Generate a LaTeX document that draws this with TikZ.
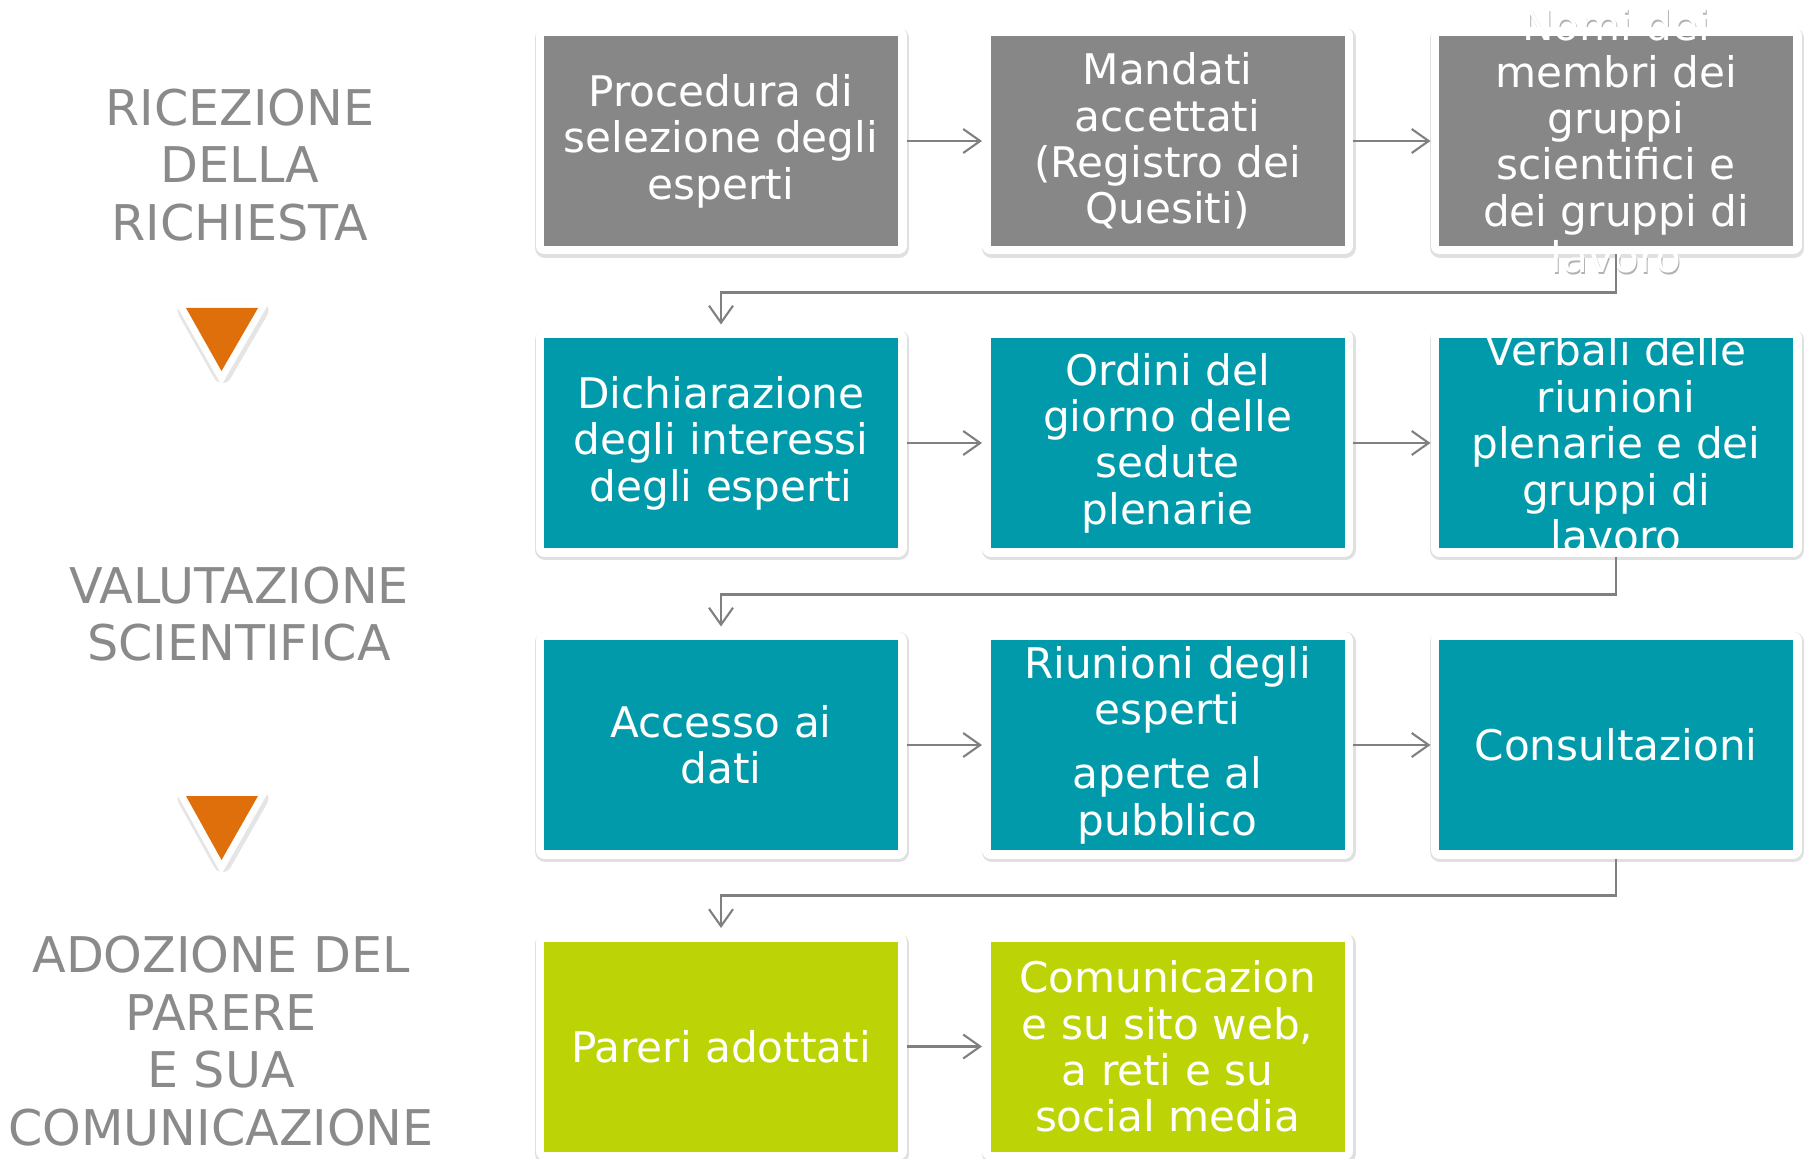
\documentclass[tikz,border=0pt]{standalone}
\usepackage{fontspec}
\setmainfont{DejaVu Sans}
\usetikzlibrary{arrows.meta}

\definecolor{boxgray}{HTML}{878787}
\definecolor{boxteal}{HTML}{009AAA}
\definecolor{boxlime}{HTML}{BCD406}
\definecolor{triorange}{HTML}{DF6F0A}
\definecolor{labelgray}{HTML}{8A8A8A}
\definecolor{linegray}{HTML}{808080}

\tikzset{
  box/.style={shape=rectangle, minimum width=3.54cm, minimum height=2.10cm, inner sep=0pt, outer sep=0.085cm,
    preaction={draw=black!12, line width=0.2cm, line join=round, transform canvas={shift={(0.012,-0.02)}}},
    preaction={draw=white, line width=0.17cm, line join=round}},
  inbox/.style={text=white, align=center, inner sep=0pt, font=\fontsize{12}{13.2}\selectfont},
  ghost/.style={text=black!30, align=center, inner sep=0pt, font=\fontsize{12}{13.2}\selectfont},
  phase/.style={text=labelgray, align=center, font=\fontsize{14}{16.4}\selectfont},
  flow/.style={draw=linegray, line width=0.6pt, -{Straight Barb[length=0.17cm,width=0.24cm]}},
  tri/.style={fill=triorange,
    preaction={fill=black!10, draw=black!10, line width=0.19cm, line join=round, transform canvas={shift={(0.01,-0.025)}}},
    preaction={draw=white, line width=0.14cm, line join=miter}}
}

\begin{document}
\begin{tikzpicture}
\useasboundingbox (0,0) rectangle (18.08,-11.58);
\node[phase] (p1) at (2.40,-1.65) {RICEZIONE\\DELLA\\RICHIESTA};
\node[phase] (p2) at (2.39,-6.14) {VALUTAZIONE\\SCIENTIFICA};
\node[phase] (p3) at (2.21,-10.41) {ADOZIONE DEL\\PARERE\\E SUA\\COMUNICAZIONE};
\fill[tri] (1.86,-3.08) -- (2.58,-3.08) -- (2.215,-3.71) -- cycle;
\fill[tri] (1.86,-7.96) -- (2.58,-7.96) -- (2.215,-8.60) -- cycle;
% shade of the text running out of the boxes
\node[ghost] (g3) at (16.172,-1.425) {Nomi dei\\membri dei\\gruppi\\scientifici e\\dei gruppi di\\lavoro};
\node[ghost] (g6) at (16.172,-4.445) {Verbali delle\\riunioni\\plenarie e dei\\gruppi di\\lavoro};
\node[box,fill=boxgray,label={[inbox]center:{Procedura di\\selezione degli\\esperti}}] (1) at (7.21,-1.41) {};
\node[box,fill=boxgray,label={[inbox]center:{Mandati\\accettati\\(Registro dei\\Quesiti)}}] (2) at (11.675,-1.41) {};
\node[box,fill=boxgray,label={[inbox]center:{Nomi dei\\membri dei\\gruppi\\scientifici e\\dei gruppi di\\lavoro}}] (3) at (16.16,-1.41) {};
\node[box,fill=boxteal,label={[inbox]center:{Dichiarazione\\degli interessi\\degli esperti}}] (4) at (7.21,-4.43) {};
\node[box,fill=boxteal,label={[inbox]center:{Ordini del\\giorno delle\\sedute\\plenarie}}] (5) at (11.675,-4.43) {};
\node[box,fill=boxteal,label={[inbox]center:{Verbali delle\\riunioni\\plenarie e dei\\gruppi di\\lavoro}}] (6) at (16.16,-4.43) {};
\node[box,fill=boxteal,label={[inbox]center:{Accesso ai\\dati}}] (7) at (7.21,-7.45) {};
\node[box,fill=boxteal,label={[inbox]center:{Riunioni degli\\esperti\\[5pt]aperte al\\pubblico}}] (8) at (11.675,-7.45) {};
\node[box,fill=boxteal,label={[inbox]center:{Consultazioni}}] (9) at (16.16,-7.45) {};
\node[box,fill=boxlime,label={[inbox]center:{Pareri adottati}}] (10) at (7.21,-10.465) {};
\node[box,fill=boxlime,label={[inbox]center:{Comunicazion\\e su sito web,\\a reti e su\\social media}}] (11) at (11.675,-10.465) {};
\path [flow] (1) edge (2);
\path [flow] (2) edge (3);
\path [flow] (4) edge (5);
\path [flow] (5) edge (6);
\path [flow] (7) edge (8);
\path [flow] (8) edge (9);
\path [flow] (10) edge (11);
\draw [flow] (3.south) -- ++(0,-0.38) -| ([yshift=0.05cm]4.north);
\draw [flow] (6.south) -- ++(0,-0.38) -| ([yshift=0.05cm]7.north);
\draw [flow] (9.south) -- ++(0,-0.37) -| ([yshift=0.05cm]10.north);
\end{tikzpicture}
\end{document}
